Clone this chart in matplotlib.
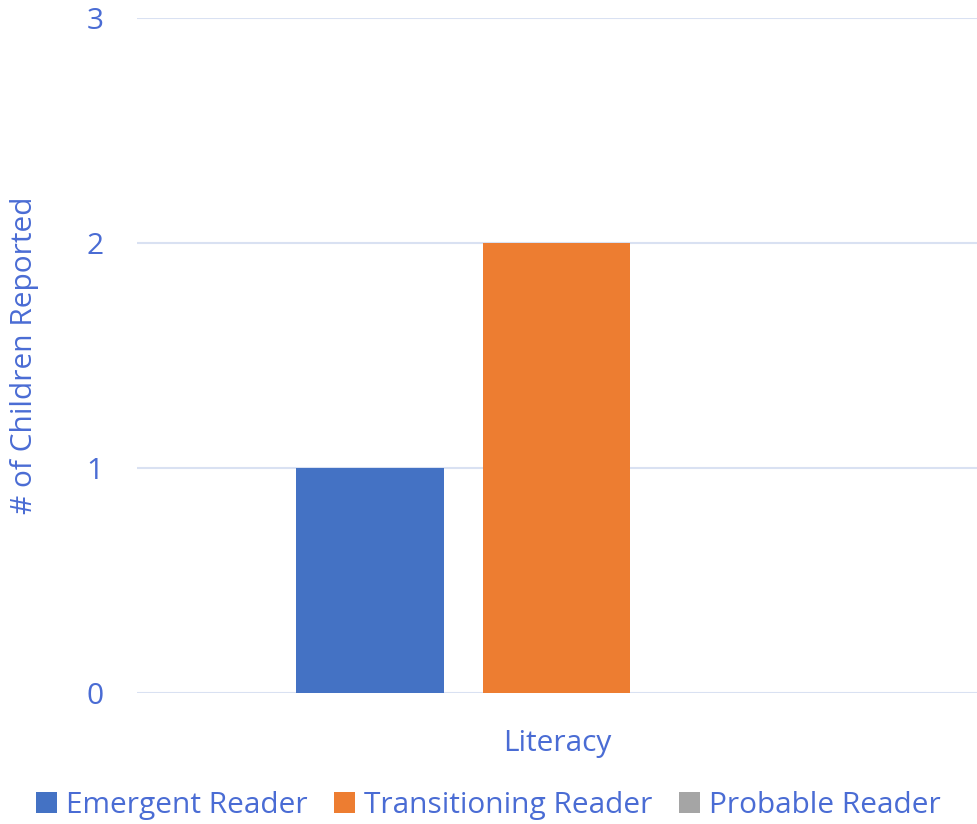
import matplotlib
matplotlib.use("Agg")
import matplotlib.pyplot as plt
from matplotlib.patches import Patch

categories = ["Literacy"]
series_names = ["Emergent Reader", "Transitioning Reader", "Probable Reader"]
series_values = [[1], [2], [0]]
colors = ["#4472C4", "#ED7D31", "#A5A5A5"]
yticks = [0, 1, 2, 3]
ylabel = "# of Children Reported"

text_color = "#4A6CD4"
grid_color = "#D9E1F2"
plt.rcParams['font.family'] = ['Open Sans', 'DejaVu Sans']

fig = plt.figure(figsize=(9.77, 8.24), dpi=100)
ax = fig.add_axes([0.1402, 0.159, 0.8598, 0.819])

bar_w = 0.175
step = 0.2226
n = len(series_names)
for i, (name, vals, c) in enumerate(zip(series_names, series_values, colors)):
    xs = [j + (i - (n - 1) / 2) * step for j in range(len(categories))]
    ax.bar(xs, vals, width=bar_w, color=c, label=name, zorder=3)

ax.set_xlim(-0.5, 0.5)
ax.set_ylim(0, 3)
ax.set_yticks(yticks)
ax.set_yticklabels([str(v) for v in yticks])
ax.set_xticks(range(len(categories)))
ax.set_xticklabels(categories)
ax.yaxis.grid(True, color=grid_color, linewidth=1.5, zorder=0)
ax.set_axisbelow(True)
for s in ax.spines.values():
    s.set_visible(False)
ax.tick_params(axis='both', length=0, colors=text_color, labelsize=21.5)
ax.tick_params(axis='y', pad=24)
ax.tick_params(axis='x', pad=26)
ax.set_ylabel(ylabel, color=text_color, fontsize=21.5)
ax.yaxis.set_label_coords(-0.117, 0.5)

handles = [Patch(facecolor=c, edgecolor='none') for c in colors]
leg = fig.legend(handles, series_names, loc='center', bbox_to_anchor=(0.5, 0.022),
                 ncol=3, frameon=False, fontsize=21.5, handlelength=0.7, handleheight=0.7,
                 handletextpad=0.3, columnspacing=0.9, labelcolor=text_color)

fig.savefig("out.png", dpi=100)
